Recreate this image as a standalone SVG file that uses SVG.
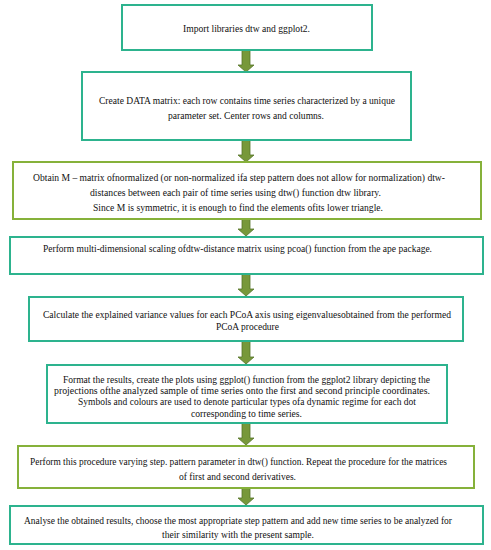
<svg xmlns="http://www.w3.org/2000/svg" width="491" height="550" viewBox="0 0 491 550">
<defs>
<style>
.box{fill:#ffffff;stroke-width:2}
.teal{stroke:#2db38e}
.olive{stroke:#86b13a}
.t{font-family:"Liberation Serif","Times New Roman",serif;font-size:10px;fill:#111111}
.arr{fill:#77983a;stroke:#56732a;stroke-width:0.8}
</style>
</defs>
<rect width="491" height="550" fill="#ffffff"/>
<g id="connectors">
<path class="arr" d="M242,50 L250,50 L250,65 L254,65 L246,72 L238,65 L242,65 Z"/>
<path class="arr" d="M242,139 L250,139 L250,155 L254,155 L246,162 L238,155 L242,155 Z"/>
<path class="arr" d="M242,219 L250,219 L250,229 L254,229 L246,236 L238,229 L242,229 Z"/>
<path class="arr" d="M242,274 L250,274 L250,289 L254,289 L246,296 L238,289 L242,289 Z"/>
<path class="arr" d="M242,341 L250,341 L250,357 L254,357 L246,364 L238,357 L242,357 Z"/>
<path class="arr" d="M242,423 L250,423 L250,438 L254,438 L246,445 L238,438 L242,438 Z"/>
<path class="arr" d="M242,488 L250,488 L250,498 L254,498 L246,505 L238,498 L242,498 Z"/>
</g>
<g id="node1">
<rect class="box teal" x="122" y="5" width="250" height="45" stroke-width="1.5"/>
<text class="t" x="183" y="31.5" textLength="127" lengthAdjust="spacingAndGlyphs">Import libraries dtw and ggplot2.</text>
</g>
<g id="node2">
<rect class="box teal" x="82" y="72" width="329" height="68"/>
<text class="t" x="99" y="103.5" textLength="296" lengthAdjust="spacingAndGlyphs">Create DATA matrix: each row contains time series characterized by a unique</text>
<text class="t" x="168" y="118.5" textLength="156" lengthAdjust="spacingAndGlyphs">parameter set. Center rows and columns.</text>
</g>
<g id="node3">
<rect class="box olive" x="13" y="162" width="468" height="57"/>
<text class="t" x="33" y="180.5" textLength="412" lengthAdjust="spacingAndGlyphs">Obtain M – matrix ofnormalized (or non-normalized ifa step pattern does not allow for normalization) dtw-</text>
<text class="t" x="90" y="195.5" textLength="291" lengthAdjust="spacingAndGlyphs">distances between each pair of time series using dtw() function dtw library.</text>
<text class="t" x="93" y="210.5" textLength="290" lengthAdjust="spacingAndGlyphs">Since M is symmetric, it is enough to find the elements ofits lower triangle.</text>
</g>
<g id="node4">
<rect class="box teal" x="10" y="237" width="473" height="37"/>
<text class="t" x="43" y="251.5" textLength="389" lengthAdjust="spacingAndGlyphs">Perform  multi-dimensional scaling ofdtw-distance matrix using pcoa() function from the ape package.</text>
</g>
<g id="node5">
<rect class="box teal" x="29" y="297" width="434" height="44"/>
<text class="t" x="43" y="317.5" textLength="408" lengthAdjust="spacingAndGlyphs">Calculate the explained variance values for each  PCoA axis using eigenvaluesobtained from the performed</text>
<text class="t" x="216" y="329.5" textLength="63" lengthAdjust="spacingAndGlyphs">PCoA procedure</text>
</g>
<g id="node6">
<rect class="box teal" x="47" y="365" width="400" height="58"/>
<text class="t" x="63" y="382.5" textLength="367" lengthAdjust="spacingAndGlyphs">Format the results, create the plots using ggplot() function from the ggplot2 library depicting the</text>
<text class="t" x="54" y="393.5" textLength="376" lengthAdjust="spacingAndGlyphs">projections ofthe analyzed sample of time series onto the first and second principle coordinates.</text>
<text class="t" x="78" y="405" textLength="338" lengthAdjust="spacingAndGlyphs">Symbols and colours are used to denote particular types ofa dynamic regime for each dot</text>
<text class="t" x="191" y="416.5" textLength="111" lengthAdjust="spacingAndGlyphs">corresponding to time series.</text>
</g>
<g id="node7">
<rect class="box olive" x="18" y="446" width="456" height="42"/>
<text class="t" x="30" y="465" textLength="417" lengthAdjust="spacingAndGlyphs">Perform  this procedure varying step. pattern parameter in dtw() function.  Repeat the procedure for the matrices</text>
<text class="t" x="179" y="479.5" textLength="117" lengthAdjust="spacingAndGlyphs">of first  and second derivatives.</text>
</g>
<g id="node8">
<rect class="box teal" x="10" y="506" width="473" height="38"/>
<text class="t" x="24" y="523.5" textLength="428" lengthAdjust="spacingAndGlyphs">Analyse the obtained results,  choose the most appropriate step pattern and add new time series to be analyzed for</text>
<text class="t" x="162" y="537.5" textLength="152" lengthAdjust="spacingAndGlyphs">their similarity with the present sample.</text>
</g>
</svg>
